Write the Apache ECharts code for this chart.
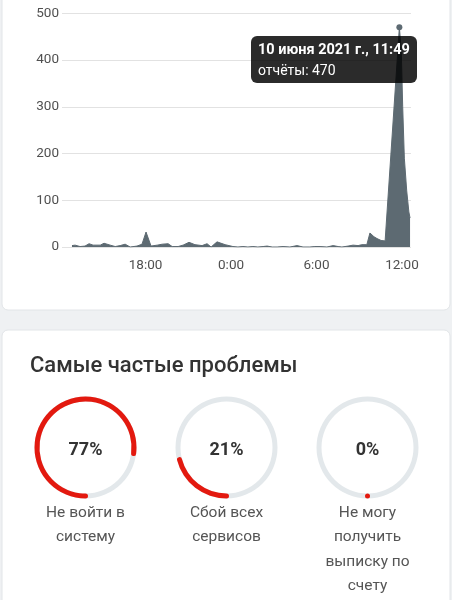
<!DOCTYPE html>
<html>
<head>
<meta charset="utf-8">
<script src="https://cdn.jsdelivr.net/npm/echarts@6/dist/echarts.min.js"></script>
<style>
  html, body { margin: 0; padding: 0; background: #eff1f3; }
  #main { width: 452px; height: 600px; }
</style>
</head>
<body>
<div id="main"></div>
<script>
// Time of each sample, minutes since 9 June 2021 00:00
const sampleMinutes = [770, 783, 804, 825, 842, 859, 889, 905, 931, 952, 973, 994, 1015, 1044, 1065, 1082, 1103, 1129, 1150, 1175, 1192, 1217, 1238, 1263, 1288, 1318, 1339, 1356, 1381, 1415, 1448, 1469, 1490, 1511, 1532, 1553, 1575, 1592, 1613, 1634, 1659, 1688, 1718, 1743, 1772, 1793, 1815, 1844, 1870, 1891, 1907, 1933, 1954, 1975, 1991, 2012, 2025, 2042, 2055, 2072, 2089, 2149, 2157, 2163, 2170, 2180, 2189, 2194];
// Number of reports per sample
const reportCounts = [3, 4, 1, 2, 7, 4, 4, 8, 4, 1, 3, 6, 0, 2, 6, 32, 2, 4, 6, 7, 1, 1, 4, 10, 5, 3, 7, 0, 11, 5, 1, 0, 1, 0, 1, 0, 1, 2, 0, 0, 1, 0, 3, 0, 0, 1, 1, 0, 3, 1, 0, 2, 4, 3, 5, 5, 30, 22, 18, 14, 13, 470, 420, 300, 190, 120, 75, 62];
// X axis ticks (minutes) and their labels
const xTickValues = [1080, 1440, 1800, 2160];
const xTickLabels = ['18:00', '0:00', '6:00', '12:00'];
// Y axis range
const yMin = 0, yMax = 500, yStep = 100;
// Most frequent problems
const problemNames = ['Не войти в\nсистему', 'Сбой всех\nсервисов', 'Не могу\nполучить\nвыписку по\nсчету'];
const problemPercents = [77, 21, 0];
const problemsTitle = 'Самые частые проблемы';
const seriesName = 'отчёты';
const monthsGen = ['января','февраля','марта','апреля','мая','июня','июля','августа','сентября','октября','ноября','декабря'];

const chart = echarts.init(document.getElementById('main'), null, { renderer: 'canvas' });

const peakIdx = reportCounts.indexOf(Math.max(...reportCounts));
const lineData = sampleMinutes.map((m, i) => i === peakIdx
  ? { value: [m, reportCounts[i]], symbol: 'circle', symbolSize: 6 }
  : { value: [m, reportCounts[i]], symbol: 'none' });

function fmtTime(mins) {
  const base = new Date(2021, 5, 9, 0, 0);
  const d = new Date(base.getTime() + mins * 60000);
  const hh = d.getHours(), mm = d.getMinutes();
  return d.getDate() + ' ' + monthsGen[d.getMonth()] + ' ' + d.getFullYear() + ' г., ' + hh + ':' + (mm < 10 ? '0' + mm : mm);
}

const FONT = 'Roboto, "Noto Sans", sans-serif';
const gaugeCentersX = [85.5, 226.5, 367.5];
const lineH = 24.5;

const gauges = problemPercents.map((p, i) => {
  const nLines = problemNames[i].split('\n').length;
  return {
    type: 'gauge',
    center: [gaugeCentersX[i], 447.5],
    radius: 51,
    startAngle: -90,
    endAngle: -450,
    clockwise: true,
    min: 0,
    max: 100,
    pointer: { show: false },
    axisTick: { show: false },
    splitLine: { show: false },
    axisLabel: { show: false },
    anchor: { show: false },
    axisLine: { roundCap: false, lineStyle: { width: 5, color: [[1, '#e3e8eb']] } },
    progress: { show: true, width: 5, roundCap: true, itemStyle: { color: '#e3190f' } },
    detail: {
      valueAnimation: false,
      formatter: '{value}%',
      fontSize: 18,
      fontWeight: 'bold',
      fontFamily: FONT,
      color: '#333333',
      offsetCenter: [0, 2.5]
    },
    title: {
      fontSize: 15.5,
      fontFamily: FONT,
      color: '#555555',
      lineHeight: lineH,
      offsetCenter: [0, 65.5 + (nLines - 1) * lineH / 2]
    },
    data: [{ value: p, name: problemNames[i] }],
    animation: false,
    silent: true
  };
});

const option = {
  animation: false,
  backgroundColor: '#eff1f3',
  textStyle: { fontFamily: FONT },
  graphic: [
    { type: 'rect', z: -10, shape: { x: 2, y: -20, width: 448, height: 330, r: 6 },
      style: { fill: '#ffffff', stroke: '#e2e5e8', lineWidth: 1 } },
    { type: 'rect', z: -10, shape: { x: 2, y: 330, width: 448, height: 300, r: 6 },
      style: { fill: '#ffffff', stroke: '#e2e5e8', lineWidth: 1 } }
  ],
  title: {
    text: problemsTitle,
    left: 30,
    top: 355.5,
    padding: 0,
    textStyle: { fontSize: 22, fontWeight: 500, color: '#333333', fontFamily: FONT }
  },
  tooltip: {
    trigger: 'item',
    alwaysShowContent: true,
    showDelay: 0,
    transitionDuration: 0,
    position: [251, 36],
    backgroundColor: 'rgba(0,0,0,0.83)',
    borderWidth: 0,
    borderRadius: 6,
    padding: [3, 7, 2, 7],
    extraCssText: 'box-shadow:none;',
    textStyle: { color: '#ffffff', fontFamily: FONT },
    formatter: (p) => '<div style="font-family:Roboto,sans-serif;font-weight:700;font-size:14.5px;line-height:21px;color:#fff">' +
      fmtTime(p.value[0]) + '</div><div style="font-family:Roboto,sans-serif;font-size:14px;line-height:21px;color:#fff">' +
      p.seriesName + ': ' + p.value[1] + '</div>'
  },
  grid: { left: 62, right: 41, top: 13.3, bottom: 353, containLabel: false },
  xAxis: {
    type: 'value',
    min: 728,
    max: 2198,
    axisLine: { show: false },
    axisTick: { show: false },
    splitLine: { show: false },
    axisLabel: {
      customValues: xTickValues,
      formatter: (v) => xTickLabels[xTickValues.indexOf(v)] || '',
      color: '#505050',
      fontSize: 13.5,
      fontFamily: FONT,
      margin: 12
    }
  },
  yAxis: {
    type: 'value',
    min: yMin,
    max: yMax,
    interval: yStep,
    axisLine: { show: false },
    axisTick: { show: false },
    splitLine: { lineStyle: { color: '#e2e2e2', width: 1 } },
    axisLabel: { color: '#505050', fontSize: 13.5, fontFamily: FONT, margin: 3 }
  },
  series: [
    {
      name: seriesName,
      type: 'line',
      data: lineData,
      showSymbol: true,
      symbol: 'none',
      lineStyle: { color: '#5d6a72', width: 1 },
      itemStyle: { color: '#5d6a72' },
      areaStyle: { color: '#5d6a72', opacity: 1 },
      emphasis: { disabled: true },
      z: 2
    },
    ...gauges
  ]
};

chart.setOption(option);
chart.dispatchAction({ type: 'showTip', seriesIndex: 0, dataIndex: peakIdx });
</script>
</body>
</html>
